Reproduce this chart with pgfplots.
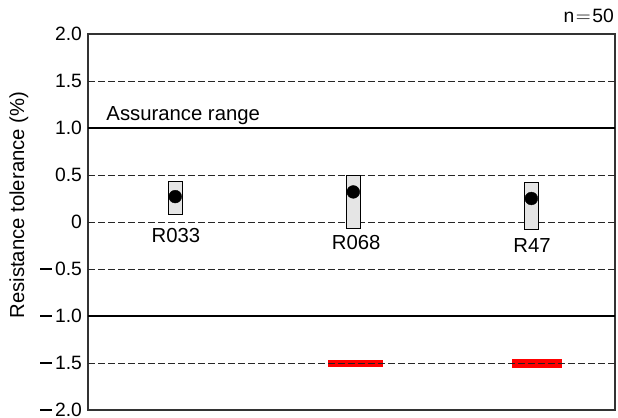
\documentclass[border=0pt]{standalone}
\usepackage{pgfplots}
\pgfplotsset{compat=1.18}
\usepackage{fontspec}
\setmainfont{Liberation Sans}
\newcommand{\tickfont}{\fontsize{19.3bp}{21bp}\selectfont}
\newcommand{\txtfont}{\fontsize{20.3bp}{22bp}\selectfont}
\newcommand{\mn}{\rule[6bp]{12bp}{1.3bp}\kern3bp}
\begin{document}
\begin{tikzpicture}
\path[use as bounding box] (0,0) rectangle (618bp,418bp);
\begin{axis}[
  at={(88bp,8bp)}, anchor=south west,
  scale only axis, width=527bp, height=376bp,
  xmin=0.51, xmax=3.47, ymin=-2, ymax=2,
  xtick=\empty,
  ytick={-2,-1.5,-1,-0.5,0,0.5,1,1.5,2},
  yticklabels={\mn 2.0,\mn 1.5,\mn 1.0,\mn 0.5,0,0.5,1.0,1.5,2.0},
  major tick length=0pt,
  yticklabel style={font=\tickfont, xshift=-2.5bp},
  ylabel={Resistance tolerance (\%)},
  ylabel style={font=\txtfont, at={(axis description cs:-0.131,0.545)}, anchor=center, rotate=0},
  axis line style={draw=black!80, line width=1.4bp},
  clip=false,
]
% red highlight bars
\addplot[fill=red, draw=none] coordinates {(1.858,-1.468) (2.167,-1.468) (2.167,-1.539) (1.858,-1.539)} -- cycle;
\addplot[fill=red, draw=none] coordinates {(2.892,-1.457) (3.173,-1.457) (3.173,-1.550) (2.892,-1.550)} -- cycle;
% reference lines
\addplot[black!85, line width=1bp, dash pattern=on 6.5bp off 3.5bp] coordinates {(0.51,1.5) (3.47,1.5)};
\addplot[black!85, line width=1bp, dash pattern=on 6.5bp off 3.5bp] coordinates {(0.51,0.5) (3.47,0.5)};
\addplot[black!85, line width=1bp, dash pattern=on 6.5bp off 3.5bp] coordinates {(0.51,0) (3.47,0)};
\addplot[black!85, line width=1bp, dash pattern=on 6.5bp off 3.5bp] coordinates {(0.51,-0.5) (3.47,-0.5)};
\addplot[black!85, line width=1bp, dash pattern=on 6.5bp off 3.5bp] coordinates {(0.51,-1.5) (3.47,-1.5)};
\addplot[black, line width=1.3bp] coordinates {(0.51,1) (3.47,1)};
\addplot[black, line width=1.3bp] coordinates {(0.51,-1) (3.47,-1)};
% range boxes
\addplot[fill=black!10, draw=black, line width=1bp] coordinates {(0.961,0.43) (1.039,0.43) (1.039,0.08) (0.961,0.08)} -- cycle;
\addplot[fill=black!10, draw=black, line width=1bp] coordinates {(1.961,0.50) (2.039,0.50) (2.039,-0.07) (1.961,-0.07)} -- cycle;
\addplot[fill=black!10, draw=black, line width=1bp] coordinates {(2.961,0.42) (3.039,0.42) (3.039,-0.08) (2.961,-0.08)} -- cycle;
% means
\addplot[only marks, mark=*, mark size=6.4bp, black] coordinates {(1,0.27) (2,0.32) (3,0.25)};
% labels
\node[font=\txtfont] at (axis cs:1.004,-0.149) {R033};
\node[font=\txtfont] at (axis cs:2.016,-0.213) {R068};
\node[font=\txtfont] at (axis cs:3.004,-0.255) {R47};
\node[font=\txtfont, anchor=base west] at (axis cs:0.594,1.085) {Assurance range};
\end{axis}
\node[font=\tickfont, anchor=base east, inner sep=0pt] at (614bp,395bp) {n\kern1.5bp$=$\kern1.5bp 50};
\end{tikzpicture}
\end{document}
